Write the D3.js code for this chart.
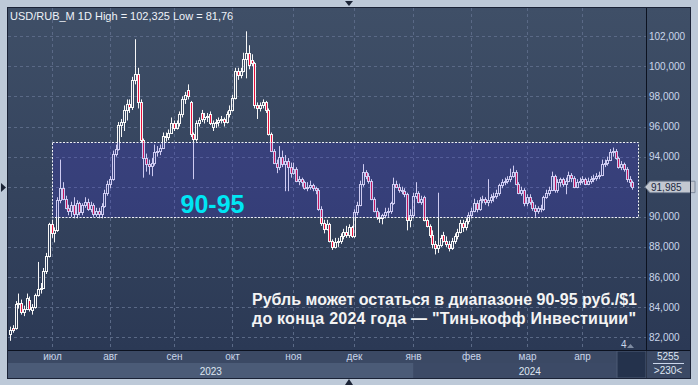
<!DOCTYPE html>
<html><head><meta charset="utf-8">
<script src="https://cdn.jsdelivr.net/npm/d3@7"></script>
<style>
html,body{margin:0;padding:0;background:#bfcbd9;}
svg{display:block;font-family:"Liberation Sans",Arial,sans-serif;}
</style>
</head><body>
<svg id="c" width="698" height="385"></svg>
<script>
// ---------- data ----------
const title = "USD/RUB_M 1D High = 102,325 Low = 81,76";
const firstDay = "2023-06-09", lastDay = "2024-04-25";
const holidays = ["2023-06-12","2024-01-01","2024-01-02","2024-02-23","2024-03-08"];
const monthStarts = ["2023-07","2023-08","2023-09","2023-10","2023-11","2023-12","2024-01","2024-02","2024-03","2024-04"];
const monthLabels = ["июл","авг","сен","окт","ноя","дек","янв","фев","мар","апр"];
const yearLabels = ["2023","2024"];
const yTicks = [82,84,86,88,90,92,94,96,98,100,102];
const rangeLow = 90, rangeHigh = 95, rangeStart = "2023-07";
const rangeLabel = "90-95";
const lastPrice = 91.985;
const noteLines = ["Рубль может остаться в диапазоне 90-95 руб./$1", "до конца 2024 года — \"Тинькофф Инвестиции\""];
const cornerTexts = ["5255", ">230<"];
const markerText = "4";

// [open, high, low, close]
const ohlcJun = [
[82.2,82.7,81.76,82.5],[82.6,82.8,82.3,82.5],[82.6,84.4,82.5,84.2],[84.2,84.9,83.9,84.3],[84.3,84.5,83.5,83.7],
[83.7,84.1,83.4,83.9],[83.9,84.9,83.8,84.6],[84.5,84.7,83.7,83.9],[83.8,84.2,83.5,84.0],[84.0,84.9,83.9,84.8],
[84.8,87.0,84.7,85.2],[85.2,85.6,84.9,85.3],[85.3,86.6,85.2,86.4],[86.4,87.6,86.2,87.4],[87.4,89.6,87.3,89.5]];
const ohlcJul = [
[89.5,89.8,88.6,88.9],[88.9,89.3,88.3,89.1],[89.1,91.3,89.0,91.1],[91.1,93.8,90.9,91.9],[91.9,92.3,91.1,91.2],
[91.2,91.4,90.5,90.6],[90.6,90.8,90.1,90.4],[90.4,91.0,90.0,90.8],[90.8,91.3,89.9,90.2],[90.2,91.1,89.9,90.9],
[90.9,91.0,90.1,90.3],[90.3,90.9,90.1,90.8],[90.8,91.3,90.6,91.0],[91.0,91.2,90.4,90.5],[90.5,91.0,90.3,90.8],
[90.8,90.9,90.0,90.2],[90.2,90.6,90.0,90.4],[90.4,90.6,89.9,90.2],[90.2,90.9,89.9,90.7],[90.7,91.8,90.6,91.6],
[91.6,92.4,91.4,92.2]];
const ohlcAug = [
[92.2,92.7,91.9,92.5],[92.5,94.4,92.4,94.2],[94.2,94.8,94.0,94.5],[94.5,96.3,94.4,96.1],[96.1,96.5,95.3,96.3],
[96.3,97.4,95.7,97.1],[97.1,97.8,96.4,97.5],[97.5,97.8,96.9,97.3],[97.3,99.3,97.1,99.1],[99.1,101.8,98.8,99.5],
[99.5,99.9,97.2,97.6],[97.6,97.8,94.9,95.1],[95.1,95.2,92.6,93.9],[93.9,94.2,93.0,93.5],[93.5,93.8,92.8,93.4],
[93.4,93.9,92.7,93.6],[93.6,94.8,93.4,94.3],[94.3,94.7,94.0,94.4],[94.4,94.8,94.1,94.6],[94.6,95.6,94.5,95.4],
[95.4,95.6,95.0,95.3],[95.3,95.8,95.1,95.6],[95.6,96.6,95.5,96.2]];
const ohlcSep = [
[96.2,96.4,95.7,95.9],[95.9,96.4,95.8,96.2],[96.2,97.0,96.0,96.8],[96.8,98.0,96.6,97.8],[97.8,98.3,97.5,98.1],
[98.4,98.8,97.8,98.0],[97.6,97.7,95.3,95.5],[95.5,95.6,92.5,95.2],[95.2,96.4,95.0,96.2],[96.2,96.6,96.0,96.4],
[96.9,97.1,96.3,96.5],[96.5,96.9,96.2,96.6],[96.6,96.9,96.3,96.7],[96.8,97.0,96.1,96.2],[96.0,96.4,95.7,96.2],
[96.2,96.5,95.9,96.3],[96.3,96.6,96.0,96.4],[96.4,96.7,96.2,96.5],[96.5,96.6,96.0,96.3],[96.3,97.0,96.2,96.8],
[96.8,97.4,96.6,97.1]];
const ohlcOct = [
[97.1,98.1,97.0,97.9],[97.9,99.9,97.8,99.7],[99.7,99.9,99.1,99.4],[99.4,99.9,99.2,99.7],[99.7,100.9,99.6,100.5],
[100.5,102.325,99.2,100.9],[100.9,101.4,99.8,100.1],[100.4,100.8,100.0,100.2],[100.2,100.3,97.2,97.4],[97.4,97.6,96.5,97.2],
[97.2,97.6,97.0,97.4],[97.4,97.8,97.2,97.6],[97.6,97.7,96.9,97.1],[97.1,97.2,95.4,95.5],[95.5,95.6,94.3,94.4],
[94.4,94.5,93.5,93.6],[93.6,93.8,92.9,93.3],[93.3,94.7,93.1,94.0],[94.0,94.4,93.3,93.5],[93.5,94.1,91.7,93.7],
[93.7,93.9,91.7,93.3],[93.3,93.6,92.6,92.9]];
const ohlcNov = [
[92.9,93.6,92.8,93.2],[93.2,93.3,92.3,92.4],[92.4,92.7,92.1,92.5],[92.5,92.6,92.0,92.3],[92.3,92.4,91.8,91.9],
[91.9,92.3,91.7,92.0],[92.0,92.4,91.8,92.1],[92.1,92.2,91.7,91.9],[91.9,92.0,91.5,91.8],[91.8,91.9,90.4,90.5],
[90.5,90.7,89.4,89.6],[89.6,89.8,88.9,89.2],[89.2,89.8,89.1,89.5],[89.5,89.6,88.3,88.4],[88.4,88.5,87.8,88.0],
[88.0,88.6,87.9,88.3],[88.3,88.6,88.0,88.4],[88.4,88.9,88.2,88.7],[88.7,89.2,88.5,89.0],[89.0,89.4,88.6,88.8],
[88.8,89.5,88.6,89.3],[89.3,89.4,88.6,88.7]];
const ohlcDec = [
[88.7,90.5,88.6,90.3],[90.3,91.0,90.1,90.8],[90.8,92.4,90.7,92.2],[92.2,93.5,92.0,93.0],[93.0,93.1,92.5,92.7],
[92.7,92.9,92.2,92.4],[92.4,92.5,91.1,91.2],[91.2,91.3,90.3,90.4],[90.4,90.6,89.8,90.0],[90.0,90.3,89.6,89.9],
[89.9,90.2,89.5,90.1],[90.1,90.6,89.9,90.3],[90.3,90.6,90.0,90.4],[90.4,91.0,90.2,90.9],[90.9,92.6,90.8,92.2],
[92.2,92.4,91.9,92.0],[92.0,92.2,91.6,91.8],[91.8,92.0,91.5,91.7],[91.7,91.9,91.3,91.5],[91.5,91.6,89.1,89.8],
[89.8,90.5,89.3,90.1]];
const ohlcJan = [
[90.1,91.6,89.9,91.4],[91.4,92.3,91.2,91.6],[91.6,91.7,90.9,91.0],[91.0,91.4,90.8,91.2],[91.3,91.4,89.7,89.8],
[89.8,89.9,89.3,89.4],[89.4,89.5,88.6,88.8],[88.8,89.1,87.9,88.2],[88.2,88.4,87.5,87.9],[87.9,91.6,87.6,88.1],
[88.1,88.8,88.0,88.6],[88.8,89.0,88.3,88.4],[88.4,88.7,88.0,88.2],[88.2,88.4,87.7,87.9],[87.9,88.6,87.8,88.4],
[88.4,88.9,88.2,88.7],[88.7,89.2,88.5,89.0],[89.0,89.8,88.9,89.6],[89.6,89.8,89.0,89.3],[89.3,89.9,89.1,89.7],
[89.7,90.3,89.5,90.1]];
const ohlcFeb = [
[90.1,90.6,89.9,90.4],[90.4,91.2,90.3,90.9],[90.9,91.1,90.3,90.5],[90.5,91.3,90.4,91.1],[91.1,91.4,90.9,91.2],
[91.2,91.3,90.8,91.0],[91.0,92.5,90.7,91.1],[91.1,91.5,90.9,91.3],[91.3,91.6,91.0,91.4],[91.4,91.8,91.2,91.6],
[91.6,92.2,91.4,92.1],[92.1,92.5,91.9,92.3],[92.3,92.6,92.1,92.4],[92.4,92.7,92.2,92.5],[92.5,93.2,92.3,92.7],
[92.7,93.4,92.6,93.0],[93.0,93.1,92.1,92.2],[92.2,92.3,91.5,91.6],[91.6,92.0,91.4,91.8],[91.8,91.9,90.7,90.9]];
const ohlcMar = [
[90.9,91.5,90.7,91.3],[91.3,91.5,90.8,91.0],[91.0,91.1,90.4,90.6],[90.6,90.8,90.0,90.4],[90.4,90.7,90.2,90.6],
[90.6,90.8,90.3,90.5],[90.5,91.4,90.4,91.3],[91.3,91.8,91.2,91.6],[91.6,92.0,91.4,91.8],[91.8,93.0,91.7,92.7],
[92.7,92.8,91.6,91.8],[91.8,92.5,91.6,92.3],[92.3,92.6,92.0,92.5],[92.5,92.6,92.0,92.2],[92.2,92.6,91.5,92.4],
[92.4,93.0,92.3,92.8],[92.8,92.9,92.3,92.6],[92.6,92.7,91.9,92.0],[92.0,92.5,91.9,92.3],[92.3,92.6,92.1,92.4]];
const ohlcApr = [
[92.4,92.7,92.2,92.5],[92.5,92.6,92.1,92.2],[92.2,92.6,92.1,92.4],[92.4,92.7,92.2,92.5],[92.5,92.8,92.3,92.6],
[92.6,92.9,92.4,92.7],[92.7,93.0,92.5,92.8],[92.8,93.8,92.7,93.5],[93.5,93.8,93.3,93.6],[93.6,94.0,93.4,93.8],
[93.8,94.5,93.7,94.3],[94.3,94.6,94.0,94.4],[94.4,94.5,93.8,93.9],[93.9,94.0,93.2,93.3],[93.3,93.7,93.1,93.5],
[93.5,93.6,93.0,93.2],[93.2,93.3,92.3,92.5],[92.5,92.7,92.0,92.3],[92.3,92.4,91.8,91.985]];

// ---------- build ----------
const ohlc = [].concat(ohlcJun, ohlcJul, ohlcAug, ohlcSep, ohlcOct, ohlcNov, ohlcDec, ohlcJan, ohlcFeb, ohlcMar, ohlcApr);
const parse = d3.utcParse("%Y-%m-%d"), fmt = d3.utcFormat("%Y-%m-%d");
const days = d3.utcDay.range(parse(firstDay), d3.utcDay.offset(parse(lastDay), 1))
  .filter(d => d.getUTCDay() % 6 !== 0 && !holidays.includes(fmt(d))).map(fmt);
const bars = ohlc.map((r, i) => ({date: days[i], o: r[0], h: r[1], l: r[2], c: r[3]}));

const svg = d3.select("#c");
const W = 698, H = 385;
const P = {l: 8, r: 646, t: 8, b: 350, axR: 690, tb: 378};

const defs = svg.append("defs");
const g1 = defs.append("linearGradient").attr("id","bg").attr("x1",0).attr("y1",0).attr("x2",0).attr("y2",1);
g1.append("stop").attr("offset","0%").attr("stop-color","#3f4f67");
g1.append("stop").attr("offset","100%").attr("stop-color","#2b3955");
const clip = defs.append("clipPath").attr("id","pc");
clip.append("rect").attr("x",P.l).attr("y",P.t).attr("width",P.r-P.l).attr("height",P.b-P.t);

// outer frame
svg.append("rect").attr("width",W).attr("height",H).attr("fill","#bdc9d8");
svg.append("rect").attr("x",P.l).attr("y",P.t).attr("width",P.axR-P.l).attr("height",P.b-P.t).attr("fill","url(#bg)");

const y = d3.scaleLinear().domain([82, 102]).range([337.2, 36.2]);
const x = d3.scaleBand().domain(days).range([8.6, 633.7]).padding(0);
const bw = x.bandwidth();
const cxOf = d => Math.round(x(d) + bw / 2);

const monthPos = monthStarts.map(m => days.find(d => d.startsWith(m)));
const mx = d => Math.round(x(d) + bw / 2) + 0.5;

// grid
const grid = svg.append("g").attr("clip-path","url(#pc)");
grid.selectAll("line.h").data(yTicks).join("line")
  .attr("x1",P.l).attr("x2",P.r).attr("y1",d=>Math.round(y(d))+0.5).attr("y2",d=>Math.round(y(d))+0.5)
  .attr("stroke","#5a6986").attr("stroke-dasharray","3,3");
grid.selectAll("line.v").data(monthPos).join("line")
  .attr("x1",mx).attr("x2",mx).attr("y1",P.t).attr("y2",P.b)
  .attr("stroke","#5a6986").attr("stroke-dasharray","3,3");

// candles
const cg = svg.append("g").attr("clip-path","url(#pc)");
bars.forEach(b => {
  const cx = cxOf(b.date);
  const top = Math.round(y(Math.max(b.o, b.c))), bot = Math.max(Math.round(y(Math.min(b.o, b.c))), top + 1);
  const up = b.c >= b.o;
  cg.append("line").attr("x1",cx+0.5).attr("x2",cx+0.5).attr("y1",y(b.h)).attr("y2",top).attr("stroke","#f6f6f6");
  cg.append("line").attr("x1",cx+0.5).attr("x2",cx+0.5).attr("y1",bot).attr("y2",y(b.l)).attr("stroke","#f6f6f6");
  cg.append("rect").attr("x",cx-0.5).attr("y",top+0.5).attr("width",2).attr("height",bot-top)
    .attr("fill", up ? "none" : "#e8103c").attr("stroke","#f6f6f6").attr("stroke-width",1);
});

// range box (drawn over candles, translucent)
const bx0 = mx(days.find(d => d.startsWith(rangeStart)));
const bx1 = Math.round(x(days[days.length-1]) + bw * 2.6) + 0.5;
const by0 = Math.round(y(rangeHigh)) + 0.5, by1 = Math.round(y(rangeLow)) + 0.5;
svg.append("rect").attr("x",bx0).attr("y",by0).attr("width",bx1-bx0).attr("height",by1-by0)
  .attr("fill","rgba(62,52,225,0.22)").attr("stroke","#eef0f4").attr("stroke-dasharray","2,1.5");

svg.append("text").attr("x",bx0+128).attr("y",y(91)+11).text(rangeLabel)
  .attr("font-size",25).attr("font-weight","bold").attr("fill","#00e6f4");

// header
svg.append("text").attr("x",10).attr("y",20).text(title).attr("font-size",11).attr("fill","#eef2f8");

// note (each line fitted to the reference's text width)
const nt = svg.append("g");
const l1 = nt.append("text").attr("x",252).attr("y",305).text(noteLines[0])
  .attr("font-size",17).attr("font-weight","bold").attr("fill","#f4f4f4");
const fs = 17 * 385 / l1.node().getComputedTextLength();
l1.attr("font-size",fs);
const l2 = nt.append("text").attr("x",252).attr("y",324).text(noteLines[1])
  .attr("font-size",fs).attr("font-weight","bold").attr("fill","#f4f4f4");
l2.attr("textLength",384).attr("lengthAdjust","spacing");

// right axis
svg.append("line").attr("x1",P.r+0.5).attr("x2",P.r+0.5).attr("y1",P.t).attr("y2",P.tb).attr("stroke","#0c1220");
const yfmt = v => d3.format(".3f")(v).replace(".", ",");
const py = y(lastPrice);
svg.append("g").selectAll("text").data(yTicks.filter(v => Math.abs(y(v) - py) > 9)).join("text")
  .attr("x",649).attr("y",d=>y(d)+3.5).text(yfmt)
  .attr("font-size",10).attr("fill","#cad6ea");
// last price tag
svg.append("path").attr("d",`M645,${py} L650,${py-5.7} L695,${py-5.7} L695,${py+5.7} L650,${py+5.7} Z`)
  .attr("fill","#c3c8d1").attr("stroke","#7e8a9c");
svg.append("text").attr("x",651).attr("y",py+3.6).text(yfmt(lastPrice)).attr("font-size",10).attr("fill","#1c2840");

// time axis
const jx = mx(monthPos[6]);
svg.append("rect").attr("x",P.l).attr("y",P.b).attr("width",P.r-P.l).attr("height",P.tb-P.b).attr("fill","#3b4964");
svg.append("rect").attr("x",P.l).attr("y",363).attr("width",jx-P.l).attr("height",P.tb-363).attr("fill","#4b5b77");
svg.append("rect").attr("x",jx).attr("y",363).attr("width",P.r-jx).attr("height",P.tb-363).attr("fill","#3c4a66");
svg.append("rect").attr("x",617).attr("y",P.b+1).attr("width",P.r-617).attr("height",P.tb-P.b-1).attr("fill","#24324c")
  .attr("stroke","#4d5b74");
svg.append("line").attr("x1",P.l).attr("x2",P.axR).attr("y1",P.b+0.5).attr("y2",P.b+0.5).attr("stroke","#0c1220");
svg.append("g").selectAll("text").data(monthPos).join("text")
  .attr("x",d=>mx(d)).attr("y",360).attr("text-anchor","middle").text((d,i)=>monthLabels[i])
  .attr("font-size",10).attr("fill","#cad6ea");
svg.append("text").attr("x",(P.l+jx)/2).attr("y",374.5).attr("text-anchor","middle").text(yearLabels[0])
  .attr("font-size",10).attr("fill","#dfe6f2");
svg.append("text").attr("x",(jx+P.r)/2).attr("y",374.5).attr("text-anchor","middle").text(yearLabels[1])
  .attr("font-size",10).attr("fill","#dfe6f2");
// right-bottom cell
svg.append("rect").attr("x",P.r+1).attr("y",P.b+1).attr("width",P.axR-P.r-1).attr("height",P.tb-P.b-1).attr("fill","#3b4964");
svg.append("text").attr("x",668).attr("y",360).attr("text-anchor","middle").text(cornerTexts[0]).attr("font-size",10).attr("fill","#dfe6f2");
svg.append("line").attr("x1",653).attr("x2",684).attr("y1",363.5).attr("y2",363.5).attr("stroke","#cad6ea");
svg.append("text").attr("x",668).attr("y",373.5).attr("text-anchor","middle").text(cornerTexts[1]).attr("font-size",10).attr("fill","#dfe6f2");
// small marker "4"
svg.append("text").attr("x",621).attr("y",348).text(markerText).attr("font-size",10).attr("fill","#cad6ea");
svg.append("path").attr("d","M627,348 L630.5,344 L634,348 Z").attr("fill","#7f8ca2");

// panel border
svg.append("rect").attr("x",P.l-0.5).attr("y",P.t-0.5).attr("width",P.axR-P.l+1).attr("height",P.tb-P.t+1)
  .attr("fill","none").attr("stroke","#1a2236");
// frame arrows
svg.append("path").attr("d","M345,1 L353,1 L349,6 Z").attr("fill","#1b2436");
svg.append("path").attr("d","M345,385 L353,385 L349,379 Z").attr("fill","#1b2436");
svg.append("path").attr("d","M1,183 L6,187.5 L1,192 Z").attr("fill","#1b2436");
</script>
</body></html>
